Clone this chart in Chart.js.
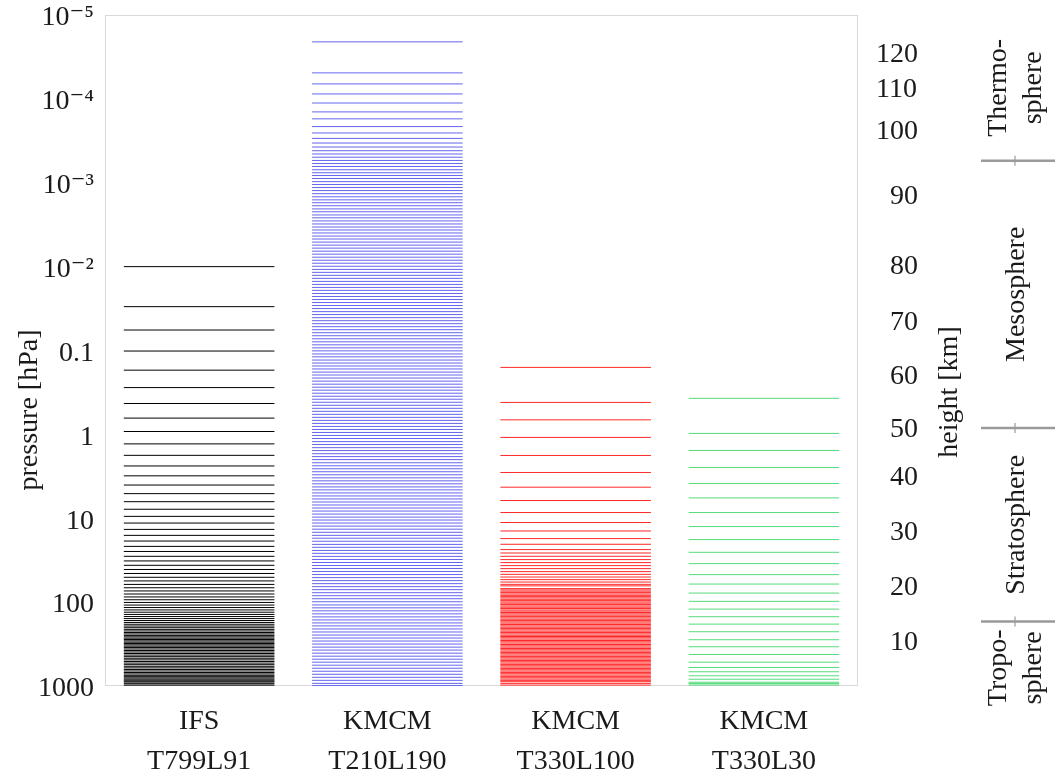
<!DOCTYPE html>
<html>
<head>
<meta charset="utf-8">
<script src="https://cdn.jsdelivr.net/npm/chart.js@4.4.1/dist/chart.umd.min.js"></script>
<style>
  html, body { margin: 0; padding: 0; background: #fff; }
  #wrap { width: 1055px; height: 778px; }
</style>
</head>
<body>
<div id="wrap"><canvas id="levels"></canvas></div>
<script>
// model names (two-line category labels)
const modelNames = [
  ["IFS", "T799L91"],
  ["KMCM", "T210L190"],
  ["KMCM", "T330L100"],
  ["KMCM", "T330L30"],
];
const modelKeys = modelNames.map(n => n.join(" "));

// model level pressures [hPa]
const ifsLevels = [
  0.01, 0.03, 0.057, 0.1015, 0.1716, 0.2768, 0.4285, 0.6396, 0.9244, 1.2985,
  1.778, 2.38, 3.121, 4.019, 5.088, 6.349, 7.813, 9.497, 11.41, 13.58,
  16.0, 18.69, 21.65, 24.9, 28.44, 32.27, 36.4, 40.83, 45.55, 50.57,
  55.89, 61.5, 67.4, 73.58, 80.04, 86.75, 93.72, 100.9, 108.4, 116.0,
  123.9, 131.9, 140.2, 148.6, 157.1, 165.8, 174.7, 183.6, 192.7, 201.9,
  211.2, 220.6, 230.1, 239.6, 249.3, 259.2, 269.1, 279.3, 289.7, 300.4,
  311, 323, 335, 348, 362, 377, 393, 410, 428, 447,
  467, 488, 510, 533, 557, 582, 608, 635, 662, 690,
  718, 746, 774, 801, 827, 852, 876, 898, 938, 975, 1008,
];

const kmcm190Levels = [
  2.09e-5, 4.9e-5, 6.63e-5, 8.73e-5, 1.12e-4, 1.43e-4, 1.73e-4, 2.14e-4, 2.55e-4, 2.96e-4,
  3.36e-4, 3.75e-4, 4.15e-4, 4.54e-4, 4.96e-4, 5.42e-4,
  5.9e-4, 6.4e-4, 7.0e-4, 7.6e-4, 8.2e-4, 8.9e-4, 9.7e-4,
  1.05e-3, 1.14e-3, 1.24e-3, 1.35e-3, 1.47e-3, 1.6e-3, 1.73e-3, 1.88e-3, 2.05e-3, 2.22e-3,
  2.42e-3, 2.62e-3, 2.85e-3, 3.1e-3, 3.37e-3, 3.66e-3, 3.97e-3, 4.32e-3, 4.69e-3, 5.1e-3,
  5.54e-3, 6.02e-3, 6.54e-3, 7.1e-3, 7.72e-3, 8.39e-3, 9.11e-3, 9.9e-3,
  0.0108, 0.0117, 0.0127, 0.0138, 0.015, 0.0163, 0.0177, 0.0192, 0.0209, 0.0227,
  0.0247, 0.0268, 0.0291, 0.0316, 0.0344, 0.0373, 0.0406, 0.0441, 0.0479, 0.052,
  0.0565, 0.0614, 0.0667, 0.0725, 0.0788, 0.0856, 0.093,
  0.101, 0.11, 0.119, 0.13, 0.141, 0.153, 0.166, 0.181, 0.196, 0.213,
  0.232, 0.252, 0.274, 0.297, 0.323, 0.351, 0.381, 0.414, 0.45, 0.489,
  0.531, 0.577, 0.627, 0.681, 0.74, 0.804, 0.874, 0.949,
  1.03, 1.12, 1.22, 1.32, 1.44, 1.56, 1.7, 1.84, 2.0, 2.18,
  2.37, 2.57, 2.79, 3.03, 3.3, 3.58, 3.89, 4.23, 4.59, 4.99,
  5.42, 5.89, 6.4, 6.95, 7.55, 8.21, 8.92, 9.69,
  10.5, 11.4, 12.4, 13.5, 14.7, 16.0, 17.3, 18.8, 20.5, 22.2,
  24.2, 26.2, 28.5, 31.0, 33.7, 36.6, 39.7, 43.2, 46.9, 51.0,
  55.4, 60.2, 65.4, 71.0, 77.2, 83.9, 91.1, 99.0,
  108, 117, 127, 138, 150, 163, 177, 192, 209, 227,
  247, 268, 291, 316, 344, 373, 406, 441, 479, 520,
  565, 614, 667, 725, 788, 856, 930, 990,
];

const kmcm100Levels = [
  0.159, 0.416, 0.671, 1.087, 1.784, 2.846, 4.264, 6.147, 8.55, 11.25,
  14.18, 17.48, 20.43, 23.64, 25.96, 28.42, 31.12, 33.81, 36.71, 39.86,
  43.29, 46.65, 50.22, 53.93, 57.61, 61.4,
  64, 69, 71.5, 74, 77, 80, 83, 86, 89, 92.5,
  96, 99.5, 103, 107, 111, 115, 119, 124, 128, 133,
  138, 143, 148, 154, 160, 166, 172, 178, 185, 192,
  199, 206, 214, 222, 230, 239, 248, 257, 266, 276,
  287, 297, 308, 320, 332, 344, 357, 370, 384, 398,
  413, 428, 444, 461, 478, 496, 514, 533, 553, 574,
  595, 617, 640, 664, 689, 714, 741, 768, 797, 827,
  857, 889, 930, 975,
];

const kmcm30Levels = [
  0.372, 0.974, 1.555, 2.48, 3.85, 5.72, 8.55, 12.56, 17.96, 25.47,
  34.75, 47.0, 60.9, 77.96, 97.9, 121.1, 149.2, 182.9, 225.4, 280.8,
  340.4, 420.7, 519.8, 601.4, 676.8, 755.7, 829.8, 900.7, 933, 973,
];

const modelLevels = [ifsLevels, kmcm190Levels, kmcm100Levels, kmcm30Levels];
const modelColors = ["rgb(0,0,0)", "rgb(60,60,235)", "rgb(255,40,40)", "rgb(40,210,90)"];
const modelWidths = [1, 0.8, 1, 0.8];

// left axis: pressure ticks
const pressureTicks = [1e-5, 1e-4, 1e-3, 1e-2, 0.1, 1, 10, 100, 1000];
const pressureLabels = ["10⁻⁵", "10⁻⁴", "10⁻³", "10⁻²", "0.1", "1", "10", "100", "1000"];

// right axis: height [km] and the pressure it sits at
const heightLabels = ["120", "110", "100", "90", "80", "70", "60", "50", "40", "30", "20", "10"];
const heightPressures = [2.96e-5, 7.76e-5, 2.46e-4, 1.47e-3, 0.0101, 0.0469, 0.207, 0.889, 3.24, 14.7, 66.7, 302];

// atmospheric layers, top to bottom, with the boundaries between them [hPa]
const layerNames = [["Thermo-", "sphere"], ["Mesosphere"], ["Stratosphere"], ["Tropo-", "sphere"]];
const layerBounds = [5.45e-4, 0.84, 170];

const FONT = "'Liberation Serif', 'DejaVu Serif', serif";
Chart.defaults.font.family = FONT;
Chart.defaults.color = "#1a1a1a";

function vText(ctx, text, x, y) {
  ctx.save();
  ctx.translate(x, y);
  ctx.rotate(-Math.PI / 2);
  ctx.textAlign = "center";
  ctx.textBaseline = "middle";
  ctx.fillText(text, 0, 0);
  ctx.restore();
}

function noPad(s) {
  s.paddingTop = 0;
  s.paddingBottom = 0;
  s.paddingLeft = 0;
  s.paddingRight = 0;
}

const decor = {
  id: "decor",
  beforeDatasetsDraw(chart) {
    const { ctx, chartArea: a } = chart;
    ctx.save();
    ctx.strokeStyle = "#d9d9d9";
    ctx.lineWidth = 1;
    ctx.strokeRect(Math.round(a.left) + 0.5, Math.round(a.top) + 0.5,
      Math.round(a.right - a.left) - 1, Math.round(a.bottom - a.top) - 1);
    ctx.restore();
  },
  afterDraw(chart) {
    const { ctx, chartArea: a, scales } = chart;
    const y = scales.y;
    ctx.save();
    ctx.fillStyle = "#1a1a1a";
    ctx.font = "28px " + FONT;
    // axis titles
    vText(ctx, "pressure [hPa]", 30, 410);
    vText(ctx, "height [km]", 950, 392);

    // layer boundaries
    const bx0 = 981, bx1 = 1055, bmid = 1015;
    const by = layerBounds.map(p => y.getPixelForValue(p));
    ctx.strokeStyle = "#9a9a9a";
    ctx.lineWidth = 2.5;
    by.forEach(v => {
      ctx.beginPath();
      ctx.moveTo(bx0, v);
      ctx.lineTo(bx1, v);
      ctx.stroke();
    });
    ctx.lineWidth = 1.2;
    by.forEach(v => {
      ctx.beginPath();
      ctx.moveTo(bmid, v - 5);
      ctx.lineTo(bmid, v + 5);
      ctx.stroke();
    });

    // layer names
    layerNames.forEach((lines, i) => {
      const top = i === 0 ? a.top : by[i - 1];
      const bot = i === layerNames.length - 1 ? a.bottom : by[i];
      const half = Math.max(...lines.map(t => ctx.measureText(t).width)) / 2;
      const cy = Math.max((top + bot) / 2, top + half + 8);
      if (lines.length === 1) {
        vText(ctx, lines[0], 1017, cy);
      } else {
        vText(ctx, lines[0], 999, cy);
        vText(ctx, lines[1], 1034, cy);
      }
    });
    ctx.restore();
  },
};

new Chart(document.getElementById("levels"), {
  type: "line",
  data: {
    labels: modelKeys,
    datasets: modelLevels.map((levels, i) => ({
      data: levels.map(p => ({ x: modelKeys[i], y: p })),
      showLine: false,
      pointStyle: "line",
      pointRadius: (c) => {
        const s = c.chart.scales.x;
        return s && s.width ? s.width / modelNames.length * 0.4 : 75;
      },
      pointBorderWidth: modelWidths[i],
      pointBorderColor: modelColors[i],
      pointBackgroundColor: modelColors[i],
    })),
  },
  options: {
    responsive: true,
    maintainAspectRatio: false,
    animation: false,
    events: [],
    layout: { autoPadding: false, padding: { top: 15, left: 0, right: 0, bottom: 0 } },
    plugins: {
      legend: { display: false },
      tooltip: { enabled: false },
    },
    scales: {
      x: {
        type: "category",
        offset: true,
        grid: { display: false, drawTicks: false },
        border: { display: false },
        ticks: {
          font: { size: 28, lineHeight: 1.43 },
          padding: 16,
          maxRotation: 0,
          autoSkip: false,
          callback: (v, i) => modelNames[i],
        },
        afterFit: (s) => { s.height = 92; noPad(s); },
      },
      y: {
        type: "logarithmic",
        position: "left",
        reverse: true,
        min: 1e-5,
        max: 1000,
        grid: { display: false, drawTicks: false },
        border: { display: false },
        afterBuildTicks: (s) => { s.ticks = pressureTicks.map(v => ({ value: v })); },
        ticks: {
          font: { size: 28, lineHeight: 1 },
          padding: 11,
          labelOffset: 3,
          callback: (v, i) => pressureLabels[i],
        },
        afterFit: (s) => { s.width = 105; noPad(s); },
      },
      y2: {
        type: "logarithmic",
        position: "right",
        reverse: true,
        min: 1e-5,
        max: 1000,
        grid: { display: false, drawTicks: false },
        border: { display: false },
        afterBuildTicks: (s) => { s.ticks = heightPressures.map(v => ({ value: v })); },
        ticks: {
          font: { size: 28, lineHeight: 1 },
          padding: 18,
          crossAlign: "near",
          // figure spaces keep the numbers right-aligned
          callback: (v, i) => heightLabels[i].padStart(3, "\u2007"),
        },
        afterFit: (s) => { s.width = 197; noPad(s); },
      },
    },
  },
  plugins: [decor],
});
</script>
</body>
</html>
